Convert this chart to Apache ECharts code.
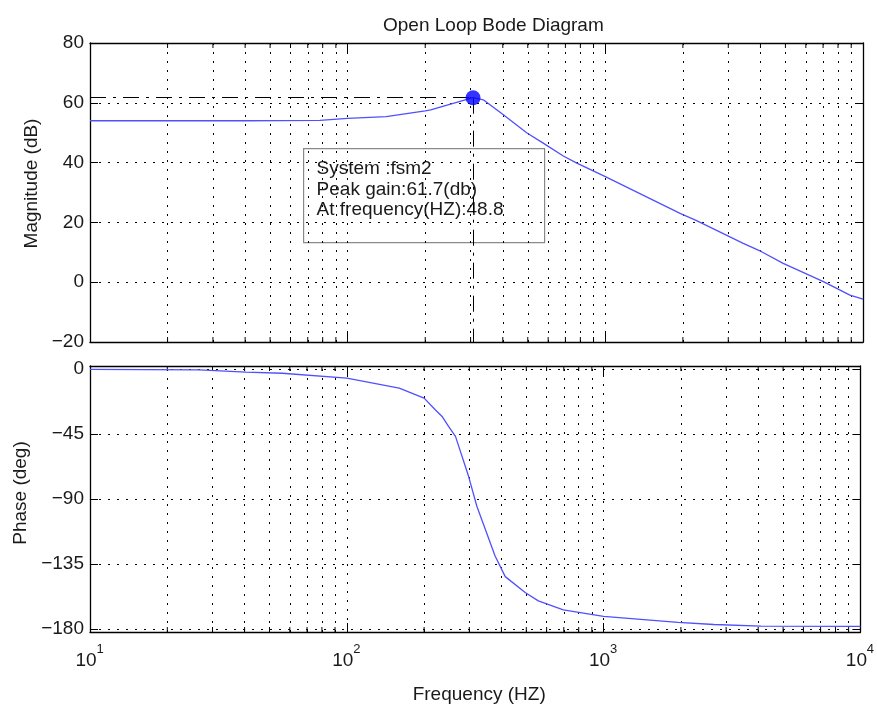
<!DOCTYPE html>
<html>
<head>
<meta charset="utf-8">
<script src="https://cdn.jsdelivr.net/npm/echarts@6/dist/echarts.min.js"></script>
<style>html,body{margin:0;padding:0;background:#fff}#c{width:877px;height:705px}</style>
</head>
<body>
<div id="c"></div>
<script>
// ---- data ----
const freqMag = [10, 20, 40, 78, 100, 141, 200, 210, 306.6, 336, 395, 495, 574, 687, 775, 1000, 1950, 2260, 3430, 4040, 4900, 7020, 8900, 10000];
const magDb   = [54.0, 54.0, 54.0, 54.1, 54.8, 55.4, 57.3, 57.6, 61.7, 61.0, 56.5, 50.0, 46.5, 42.2, 39.8, 35.3, 23.0, 20.6, 13.0, 10.2, 6.3, 0.2, -4.3, -5.7];
const freqPh   = [10, 26.7, 40.5, 56, 100, 160, 200, 221, 235, 249, 265, 298, 321, 378, 414, 495, 557, 697, 1000, 1950, 2690, 4100, 10000];
const phaseDeg = [-0.3, -0.7, -2.3, -3.0, -6.4, -13.3, -20.2, -28.3, -32.9, -39.8, -46.7, -74.3, -95.0, -129.4, -143.7, -154.7, -160.5, -166.7, -171.2, -175.4, -176.8, -177.9, -178.1];
const magTicks = [-20, 0, 20, 40, 60, 80];
const phaseTicks = [0, -45, -90, -135, -180];
const minorFreqs = [20,30,40,50,60,70,80,90,200,300,400,500,600,700,800,900,2000,3000,4000,5000,6000,7000,8000,9000];
const tickBase = '10';
const peakFreq = 306.6;   // rad/s  (48.8 Hz)
const peakGain = 61.7;
const peakHz = 48.8;
const systemName = 'fsm2';

// ---- styling ----
const FONT = '"Liberation Sans", Arial, sans-serif';
const TXT = '#1a1a1a';
const CURVE = '#5050ff';
const DOT = [2, 7];
const magRange = [-20, 80];
const phRange = [-182, 2];

const chart = echarts.init(document.getElementById('c'), null, {renderer: 'canvas'});

function xAxisBase(gridIndex, pos) {
  return {
    type: 'log', logBase: 10, min: 10, max: 10000, gridIndex, position: pos,
    axisLine: {show: true, onZero: false, lineStyle: {color: '#000', width: 1.3}},
    axisTick: {show: true, inside: true, length: 9, lineStyle: {color: '#000'}},
    axisLabel: {show: false},
    splitLine: {show: pos === 'bottom', lineStyle: {color: '#000', type: DOT, width: 1}},
    minorTick: {show: false}
  };
}

function minorTicksSeries(xi, yi, yr) {
  return {
    type: 'custom', xAxisIndex: xi, yAxisIndex: yi, silent: true, z: 3,
    data: minorFreqs.map(f => [f, yr[0]]),
    renderItem: (params, api) => {
      const f = api.value(0);
      const b = api.coord([f, yr[0]]);
      const t = api.coord([f, yr[1]]);
      const st = {stroke: '#000', lineWidth: 1};
      return {type: 'group', children: [
        {type: 'line', shape: {x1: b[0], y1: b[1], x2: b[0], y2: b[1] - 5}, style: st},
        {type: 'line', shape: {x1: t[0], y1: t[1], x2: t[0], y2: t[1] + 5}, style: st}
      ]};
    }
  };
}

const minorLines = minorFreqs.map(f => ({xAxis: f, lineStyle: {color: '#000', type: DOT, width: 1}}));
const dashDot = {color: '#000', type: [16, 7, 3, 7], width: 1};

const baseAxis = xAxisBase(1, 'bottom');
baseAxis.axisLabel = {show: true, margin: 19, fontSize: 19, fontFamily: FONT, color: TXT,
  padding: [0, 8, 0, 0], formatter: () => tickBase};
baseAxis.name = 'Frequency (HZ)';
baseAxis.nameLocation = 'middle';
baseAxis.nameGap = 53;
baseAxis.nameTextStyle = {fontSize: 19, fontFamily: FONT, color: TXT, padding: [0, 0, 0, 8]};

const expAxis = {
  type: 'log', logBase: 10, min: 10, max: 10000, gridIndex: 1, position: 'bottom',
  axisLine: {show: false}, axisTick: {show: false}, splitLine: {show: false},
  axisLabel: {show: true, margin: 11, fontSize: 13, fontFamily: FONT, color: TXT,
    padding: [0, 0, 0, 20], formatter: v => String(Math.round(Math.log10(v)))}
};

const option = {
  animation: false,
  backgroundColor: '#fff',
  title: {
    text: 'Open Loop Bode Diagram', left: 378, top: 11,
    textStyle: {fontSize: 19, fontWeight: 'normal', fontFamily: FONT, color: TXT}
  },
  grid: [
    {left: 90, top: 43, width: 773, height: 299},
    {left: 90, top: 366, width: 773, height: 266.5}
  ],
  xAxis: [
    xAxisBase(0, 'bottom'),
    xAxisBase(0, 'top'),
    baseAxis,
    xAxisBase(1, 'top'),
    expAxis
  ],
  yAxis: [
    {
      type: 'value', gridIndex: 0, min: magRange[0], max: magRange[1], interval: 20, position: 'left',
      name: 'Magnitude (dB)', nameLocation: 'middle', nameGap: 48,
      nameTextStyle: {fontSize: 19, fontFamily: FONT, color: TXT, padding: [0, 0, 0, 18]},
      axisLine: {show: true, lineStyle: {color: '#000', width: 1.3}},
      axisTick: {show: true, inside: true, length: 8, lineStyle: {color: '#000'}},
      axisLabel: {margin: 6, fontSize: 19, fontFamily: FONT, color: TXT, formatter: v => String(v).replace('-', '\u2212')},
      splitLine: {show: true, lineStyle: {color: '#000', type: DOT, width: 1}}
    },
    {
      type: 'value', gridIndex: 0, min: magRange[0], max: magRange[1], interval: 20, position: 'right',
      axisLine: {show: true, lineStyle: {color: '#000', width: 1.3}},
      axisTick: {show: true, inside: true, length: 8, lineStyle: {color: '#000'}},
      axisLabel: {show: false}, splitLine: {show: false}
    },
    {
      type: 'value', gridIndex: 1, min: phRange[0], max: phRange[1], position: 'left',
      name: 'Phase (deg)', nameLocation: 'middle', nameGap: 51,
      nameTextStyle: {fontSize: 19, fontFamily: FONT, color: TXT, padding: [0, 0, 0, 12]},
      axisLine: {show: true, lineStyle: {color: '#000', width: 1.3}},
      axisTick: {show: true, inside: true, length: 8, customValues: phaseTicks, lineStyle: {color: '#000'}},
      axisLabel: {margin: 6, fontSize: 19, fontFamily: FONT, color: TXT, customValues: phaseTicks,
        formatter: v => String(v).replace('-', '\u2212')},
      splitLine: {show: false}
    },
    {
      type: 'value', gridIndex: 1, min: phRange[0], max: phRange[1], position: 'right',
      axisLine: {show: true, lineStyle: {color: '#000', width: 1.3}},
      axisTick: {show: true, inside: true, length: 8, customValues: phaseTicks, lineStyle: {color: '#000'}},
      axisLabel: {show: false}, splitLine: {show: false}
    }
  ],
  series: [
    {
      type: 'line', xAxisIndex: 0, yAxisIndex: 0, z: 5,
      data: freqMag.map((f, i) => [f, magDb[i]]),
      showSymbol: false, symbol: 'none',
      lineStyle: {color: CURVE, width: 1.3},
      markLine: {
        silent: true, symbol: ['none', 'none'], label: {show: false}, animation: false,
        data: minorLines.concat([
          [{coord: [10, peakGain], lineStyle: dashDot}, {coord: [peakFreq, peakGain]}],
          [{coord: [peakFreq, peakGain], lineStyle: dashDot}, {coord: [peakFreq, magRange[0]]}]
        ])
      }
    },
    {
      type: 'scatter', xAxisIndex: 0, yAxisIndex: 0, z: 6,
      data: [[peakFreq, peakGain]], symbolSize: 15,
      itemStyle: {color: '#0000ff'}
    },
    {
      type: 'line', xAxisIndex: 2, yAxisIndex: 2, z: 5,
      data: freqPh.map((f, i) => [f, phaseDeg[i]]),
      showSymbol: false, symbol: 'none',
      lineStyle: {color: CURVE, width: 1.3},
      markLine: {
        silent: true, symbol: ['none', 'none'], label: {show: false}, animation: false,
        data: minorLines.concat(phaseTicks.map(v => ({yAxis: v, lineStyle: {color: '#000', type: DOT, width: 1}})))
      }
    },
    minorTicksSeries(0, 0, magRange),
    minorTicksSeries(2, 2, phRange)
  ],
  graphic: [
    {
      type: 'group', left: 303, top: 148, z: 100,
      children: [
        {type: 'rect', shape: {x: 0, y: 0, width: 241, height: 94},
          style: {fill: '#fff', stroke: '#8a8a8a', lineWidth: 1.2}},
        {type: 'text', x: 13, y: 10,
          style: {text: 'System :' + systemName + '\nPeak gain:' + peakGain + '(db)\nAt frequency(HZ):' + peakHz,
            font: '19px ' + FONT, fill: TXT, lineHeight: 20.5}}
      ]
    }
  ]
};
chart.setOption(option);
</script>
</body>
</html>
